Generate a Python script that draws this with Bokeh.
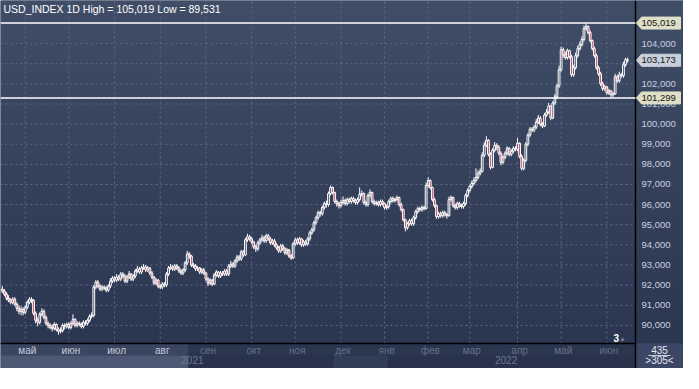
import pandas as pd
from bokeh.plotting import figure
from bokeh.models import Range1d, Label, BoxAnnotation
from bokeh.core.properties import value
from bokeh.embed import file_html
from bokeh.resources import INLINE

# ---------------- data ----------------
symbol = "USD_INDEX"
timeframe = "1D"
first_day = "2021-04-16"
skipped_days = ["2021-12-24", "2021-12-31"]

closes = [
    91.70, 91.55, 91.35, 91.25, 91.15, 91.30, 91.05, 90.85, 90.70, 90.80,
    90.65, 90.90, 91.15, 91.30, 91.25, 90.60, 90.25, 90.15, 90.55, 90.70,
    90.40, 90.10, 90.00, 89.90, 89.85, 90.05, 89.80, 89.70, 89.75, 90.00,
    89.95, 90.05, 89.90, 90.10, 90.30, 90.00, 90.10, 90.05, 89.95, 90.15,
    90.10, 90.25, 90.45, 90.50, 91.90, 92.15, 91.95, 91.80, 91.90, 91.85,
    91.75, 91.95, 92.20, 92.35, 92.25, 92.40, 92.30, 92.55, 92.45, 92.20,
    92.40, 92.55, 92.30, 92.45, 92.70, 92.80, 92.65, 92.85, 92.90, 92.75,
    92.85, 92.60, 92.40, 92.10, 92.25, 91.95, 91.90, 92.05, 92.00, 92.55,
    92.85, 92.90, 92.80, 92.95, 92.85, 92.70, 92.60, 92.75, 93.10, 93.55,
    93.45, 93.00, 92.95, 92.80, 92.85, 92.65, 92.75, 92.60, 92.30, 92.10,
    92.25, 92.05, 92.50, 92.65, 92.45, 92.60, 92.55, 92.70, 92.55, 92.95,
    93.05, 92.95, 93.20, 93.40, 93.30, 93.65, 93.50, 94.25, 94.40, 94.30,
    94.15, 93.90, 93.80, 94.10, 94.25, 94.35, 94.20, 94.45, 94.30, 94.10,
    94.20, 94.00, 93.85, 93.70, 93.95, 93.80, 93.60, 93.75, 93.45, 93.35,
    94.05, 94.25, 94.10, 94.30, 94.00, 94.15, 94.05, 94.30, 94.60, 94.75,
    95.10, 95.35, 95.60, 95.55, 95.85, 96.05, 96.00, 96.55, 96.85, 96.60,
    96.15, 96.05, 95.95, 96.10, 96.20, 96.05, 96.25, 96.15, 96.30, 96.20,
    96.10, 96.25, 96.50, 96.55, 96.10, 96.00, 96.45, 96.60, 96.15, 96.05,
    96.10, 96.00, 96.15, 96.05, 95.85, 95.90, 96.15, 96.30, 96.20, 96.25,
    96.35, 96.00, 95.75, 95.25, 94.85, 95.05, 95.20, 95.05, 95.35, 95.65,
    95.80, 95.75, 95.85, 95.80, 96.95, 97.20, 96.85, 96.25, 95.95, 95.40,
    95.55, 95.45, 95.60, 95.50, 95.45, 96.25, 96.35, 95.95, 95.85, 96.05,
    95.95, 95.90, 96.05, 96.45, 96.70, 96.90, 97.05, 97.20, 97.35, 97.55,
    97.65, 98.45, 98.95, 99.20, 98.50, 97.85, 98.70, 98.95, 98.85, 98.55,
    98.10, 98.35, 98.55, 98.80, 98.50, 98.65, 98.80, 98.75, 99.05, 98.40,
    97.80, 98.20, 99.00, 99.45, 99.75, 99.70, 99.85, 100.10, 100.30, 100.00,
    99.90, 100.45, 100.60, 100.90, 100.30, 101.05, 101.35, 101.90, 102.70, 103.70,
    103.45, 103.30, 103.65, 103.35, 102.45, 102.80, 103.40, 103.75, 103.95, 104.20,
    104.75, 104.85, 104.55, 104.15, 103.75, 103.40, 102.80, 102.50, 102.00, 101.75,
    101.85, 101.55, 101.65, 101.45, 101.50, 102.35, 102.15, 102.45, 102.40, 102.95,
    103.20, 103.173,
]

opens = [
    91.80, 91.70, 91.55, 91.35, 91.25, 91.15, 91.30, 91.05, 90.85, 90.70,
    90.80, 90.65, 90.90, 91.15, 91.30, 91.25, 90.60, 90.25, 90.15, 90.55,
    90.70, 90.40, 90.10, 90.00, 89.90, 89.85, 90.05, 89.80, 89.70, 89.75,
    90.00, 89.95, 90.05, 89.90, 90.10, 90.30, 90.00, 90.10, 90.05, 89.95,
    90.15, 90.10, 90.25, 90.45, 90.50, 91.90, 92.15, 91.95, 91.80, 91.90,
    91.85, 91.75, 91.95, 92.20, 92.35, 92.25, 92.40, 92.30, 92.55, 92.45,
    92.20, 92.40, 92.55, 92.30, 92.45, 92.70, 92.80, 92.65, 92.85, 92.90,
    92.75, 92.85, 92.60, 92.40, 92.10, 92.25, 91.95, 91.90, 92.05, 92.00,
    92.55, 92.85, 92.90, 92.80, 92.95, 92.85, 92.70, 92.60, 92.75, 93.10,
    93.55, 93.45, 93.00, 92.95, 92.80, 92.85, 92.65, 92.75, 92.60, 92.30,
    92.10, 92.25, 92.05, 92.50, 92.65, 92.45, 92.60, 92.55, 92.70, 92.55,
    92.95, 93.05, 92.95, 93.20, 93.40, 93.30, 93.65, 93.50, 94.25, 94.40,
    94.30, 94.15, 93.90, 93.80, 94.10, 94.25, 94.35, 94.20, 94.45, 94.30,
    94.10, 94.20, 94.00, 93.85, 93.70, 93.95, 93.80, 93.60, 93.75, 93.45,
    93.35, 94.05, 94.25, 94.10, 94.30, 94.00, 94.15, 94.05, 94.30, 94.60,
    94.75, 95.10, 95.35, 95.60, 95.55, 95.85, 96.05, 96.00, 96.55, 96.85,
    96.60, 96.15, 96.05, 95.95, 96.10, 96.20, 96.05, 96.25, 96.15, 96.30,
    96.20, 96.10, 96.25, 96.50, 96.55, 96.10, 96.00, 96.45, 96.60, 96.15,
    96.05, 96.10, 96.00, 96.15, 96.05, 95.85, 95.90, 96.15, 96.30, 96.20,
    96.25, 96.35, 96.00, 95.75, 95.25, 94.85, 95.05, 95.20, 95.05, 95.35,
    95.65, 95.80, 95.75, 95.85, 95.80, 96.95, 97.20, 96.85, 96.25, 95.95,
    95.40, 95.55, 95.45, 95.60, 95.50, 95.45, 96.25, 96.35, 95.95, 95.85,
    96.05, 95.95, 95.90, 96.05, 96.45, 96.70, 96.90, 97.05, 97.20, 97.35,
    97.55, 97.65, 98.45, 98.95, 99.20, 98.50, 97.85, 98.70, 98.95, 98.85,
    98.55, 98.10, 98.35, 98.55, 98.80, 98.50, 98.65, 98.80, 98.75, 99.05,
    98.40, 97.80, 98.20, 99.00, 99.45, 99.75, 99.70, 99.85, 100.10, 100.30,
    100.00, 99.90, 100.45, 100.60, 100.90, 100.30, 101.05, 101.35, 101.90, 102.70,
    103.70, 103.45, 103.30, 103.65, 103.35, 102.45, 102.80, 103.40, 103.75, 103.95,
    104.20, 104.75, 104.85, 104.55, 104.15, 103.75, 103.40, 102.80, 102.50, 102.00,
    101.75, 101.85, 101.55, 101.65, 101.45, 101.50, 102.35, 102.15, 102.45, 102.40,
    102.95, 103.20,
]

highs = [
    91.95, 91.80, 91.65, 91.50, 91.35, 91.40, 91.40, 91.15, 91.00, 90.95,
    90.90, 91.00, 91.25, 91.40, 91.40, 91.30, 90.70, 90.40, 90.65, 90.85,
    90.80, 90.50, 90.20, 90.10, 90.05, 90.15, 90.10, 89.90, 89.90, 90.10,
    90.10, 90.15, 90.15, 90.20, 90.55, 90.35, 90.20, 90.20, 90.15, 90.25,
    90.25, 90.35, 90.55, 90.65, 92.00, 92.25, 92.25, 92.05, 92.00, 92.00,
    91.95, 92.05, 92.35, 92.45, 92.45, 92.55, 92.50, 92.65, 92.65, 92.55,
    92.50, 92.70, 92.60, 92.55, 92.80, 92.95, 92.90, 92.95, 93.05, 93.00,
    92.95, 92.90, 92.70, 92.45, 92.35, 92.30, 92.05, 92.15, 92.15, 92.65,
    92.95, 93.05, 93.00, 93.05, 93.05, 92.95, 92.80, 92.85, 93.20, 93.70,
    93.65, 93.50, 93.10, 93.05, 92.95, 92.90, 92.85, 92.85, 92.65, 92.40,
    92.35, 92.30, 92.60, 92.75, 92.70, 92.70, 92.70, 92.80, 92.80, 93.05,
    93.20, 93.15, 93.30, 93.50, 93.50, 93.75, 93.75, 94.35, 94.55, 94.50,
    94.40, 94.20, 94.00, 94.20, 94.35, 94.50, 94.45, 94.55, 94.55, 94.40,
    94.30, 94.30, 94.10, 93.95, 94.05, 94.05, 93.90, 93.85, 93.80, 93.55,
    94.15, 94.35, 94.35, 94.40, 94.35, 94.25, 94.25, 94.40, 94.70, 94.85,
    95.20, 95.45, 95.70, 95.70, 95.95, 96.15, 96.20, 96.65, 96.95, 96.90,
    96.65, 96.25, 96.15, 96.25, 96.40, 96.30, 96.35, 96.35, 96.40, 96.40,
    96.30, 96.35, 96.85, 96.70, 96.60, 96.20, 96.55, 96.75, 96.65, 96.25,
    96.20, 96.20, 96.25, 96.25, 96.10, 96.00, 96.25, 96.40, 96.40, 96.35,
    96.45, 96.40, 96.10, 95.80, 95.30, 95.15, 95.30, 95.30, 95.45, 95.75,
    95.90, 95.90, 95.95, 95.95, 97.10, 97.35, 97.25, 96.90, 96.35, 96.00,
    95.65, 95.65, 95.70, 95.70, 95.60, 96.40, 96.45, 96.40, 96.05, 96.15,
    96.15, 96.05, 96.15, 96.55, 96.80, 97.00, 97.20, 97.35, 97.80, 97.70,
    97.80, 98.60, 99.10, 99.40, 99.25, 98.60, 98.80, 99.10, 99.05, 98.95,
    98.65, 98.45, 98.65, 98.90, 98.85, 98.75, 98.90, 98.90, 99.30, 99.10,
    98.50, 98.30, 99.10, 99.55, 99.85, 99.85, 99.95, 100.25, 100.45, 100.40,
    100.10, 100.55, 100.75, 101.05, 100.95, 101.15, 101.50, 102.00, 102.90, 103.85,
    103.80, 103.60, 103.75, 103.70, 103.45, 102.95, 103.55, 103.90, 104.10, 104.35,
    104.90, 105.019, 104.90, 104.65, 104.20, 103.85, 103.50, 102.90, 102.60, 102.10,
    101.95, 101.90, 101.75, 101.70, 101.60, 102.50, 102.45, 102.60, 102.55, 103.10,
    103.30, 103.30,
]

lows = [
    91.60, 91.45, 91.25, 91.15, 91.05, 91.05, 90.95, 90.70, 90.55, 90.50,
    90.50, 90.55, 90.80, 91.05, 91.10, 90.50, 90.10, 89.95, 90.05, 90.45,
    90.30, 90.00, 89.85, 89.80, 89.70, 89.75, 89.70, 89.531, 89.60, 89.65,
    89.80, 89.85, 89.80, 89.80, 90.00, 89.90, 89.90, 89.95, 89.85, 89.85,
    90.00, 90.00, 90.15, 90.35, 90.40, 91.80, 91.85, 91.70, 91.70, 91.75,
    91.65, 91.65, 91.85, 92.10, 92.15, 92.15, 92.20, 92.20, 92.35, 92.10,
    92.10, 92.30, 92.20, 92.20, 92.35, 92.60, 92.55, 92.55, 92.75, 92.65,
    92.65, 92.50, 92.30, 92.00, 92.00, 91.85, 91.80, 91.80, 91.90, 91.90,
    92.45, 92.75, 92.70, 92.70, 92.75, 92.60, 92.50, 92.50, 92.65, 93.00,
    93.30, 92.90, 92.85, 92.70, 92.70, 92.55, 92.55, 92.50, 92.20, 91.95,
    92.00, 91.95, 92.00, 92.40, 92.35, 92.35, 92.45, 92.45, 92.45, 92.45,
    92.85, 92.85, 92.85, 93.10, 93.20, 93.20, 93.40, 93.45, 94.15, 94.20,
    94.05, 93.80, 93.65, 93.70, 94.00, 94.15, 94.10, 94.10, 94.20, 94.00,
    94.00, 93.90, 93.75, 93.60, 93.60, 93.70, 93.50, 93.50, 93.35, 93.25,
    93.30, 93.95, 94.00, 94.00, 93.90, 93.90, 93.95, 93.95, 94.20, 94.50,
    94.65, 95.00, 95.25, 95.40, 95.45, 95.75, 95.85, 95.90, 96.45, 96.50,
    96.05, 95.90, 95.80, 95.85, 96.00, 95.95, 95.95, 96.05, 96.05, 96.10,
    96.00, 96.00, 96.15, 96.40, 96.00, 95.90, 95.90, 96.35, 96.05, 95.95,
    95.95, 95.90, 95.90, 95.95, 95.75, 95.75, 95.80, 96.05, 96.10, 96.10,
    96.15, 95.90, 95.65, 95.15, 94.67, 94.75, 94.95, 94.95, 94.95, 95.25,
    95.55, 95.65, 95.65, 95.70, 95.75, 96.85, 96.75, 96.15, 95.85, 95.30,
    95.30, 95.35, 95.35, 95.40, 95.30, 95.40, 96.15, 95.85, 95.75, 95.75,
    95.85, 95.80, 95.80, 95.95, 96.35, 96.60, 96.80, 96.95, 97.10, 97.25,
    97.45, 97.60, 98.35, 98.85, 98.40, 97.75, 97.80, 98.60, 98.70, 98.45,
    97.95, 98.00, 98.25, 98.45, 98.40, 98.40, 98.55, 98.65, 98.65, 98.30,
    97.70, 97.70, 98.10, 98.90, 99.35, 99.60, 99.60, 99.75, 100.00, 99.90,
    99.80, 99.85, 100.35, 100.50, 100.20, 100.25, 100.95, 101.25, 101.80, 102.60,
    103.30, 103.20, 103.20, 103.25, 102.35, 102.35, 102.70, 103.30, 103.65, 103.85,
    104.10, 104.65, 104.45, 104.05, 103.65, 103.30, 102.70, 102.40, 101.90, 101.65,
    101.65, 101.45, 101.45, 101.299, 101.35, 101.45, 102.05, 102.05, 102.30, 102.30,
    102.85, 103.05,
]

month_names = {1: "янв", 2: "фев", 3: "мар", 4: "апр", 5: "май", 6: "июн",
               7: "июл", 8: "авг", 9: "сен", 10: "окт", 11: "ноя", 12: "дек"}
y_ticks = [90, 91, 92, 93, 94, 95, 96, 97, 98, 99, 100, 101, 102, 103, 104]
range_high = 105.019
range_low = 89.531
recent_low = 101.299
last_price = 103.173
bars_total = 435
bars_visible = 305
marker_text = "3"

# ---------------- derived ----------------
n = len(closes)
assert len(opens) == n and len(highs) == n and len(lows) == n, (len(opens), len(highs), len(lows), n)

all_days = pd.bdate_range(first_day, periods=n + len(skipped_days))
days = all_days[~all_days.isin(pd.to_datetime(skipped_days))][:n]
xs = list(range(n))
month_ticks = [i for i in range(1, n) if days[i].month != days[i - 1].month]
month_text = [month_names[days[i].month] for i in month_ticks]
years = sorted(set(d.year for d in days))
year_centers = []
for yr in years:
    idx = [i for i in range(n) if days[i].year == yr]
    year_centers.append((idx[0] + idx[-1]) / 2)


def fmt(v):
    return f"{v:.3f}".replace(".", ",")


# ---------------- layout / style ----------------
W, H, RIGHT = 683, 368, 48
BAND_PX, MONTH_PX = 25, 12
X0, X1 = -0.9, 304.8                      # price pane (bars)
Y_TOP, PRICE_FLOOR = 106.14, 89.10        # price pane (index points)
PX_X = (W - RIGHT) / (X1 - X0)            # pixels per bar
PX_Y = (H - BAND_PX) / (Y_TOP - PRICE_FLOOR)
Y_BOTTOM = PRICE_FLOOR - BAND_PX / PX_Y
MONTH_FLOOR = PRICE_FLOOR - MONTH_PX / PX_Y
X_END = X1 + RIGHT / PX_X                 # right edge incl. price scale
HIGHLIGHT_END = 89.5
FONT = value("Liberation Sans")
GRID = "#5d6a88"

p = figure(width=W, height=H, x_range=Range1d(X0, X_END), y_range=Range1d(Y_BOTTOM, Y_TOP),
           output_backend="svg", toolbar_location=None, x_axis_location=None,
           y_axis_location=None, min_border=0)
p.background_fill_color = "#2e3a55"
p.border_fill_color = "#2e3a55"
p.outline_line_color = None
p.grid.visible = False

# background gradient
top_rgb, bot_rgb = (64, 77, 104), (43, 54, 79)
NB = 24
for k in range(NB):
    t = (k + 0.5) / NB
    rgb = tuple(int(round(bot_rgb[j] + (top_rgb[j] - bot_rgb[j]) * t)) for j in range(3))
    lo = PRICE_FLOOR + (Y_TOP - PRICE_FLOOR) * k / NB
    hi = PRICE_FLOOR + (Y_TOP - PRICE_FLOOR) * (k + 1) / NB
    p.add_layout(BoxAnnotation(bottom=lo, top=hi + 0.01, fill_color="#%02x%02x%02x" % rgb,
                               fill_alpha=1, line_color=None, level="image"))

# grid lines (price pane only)
p.segment(x0=[X0] * len(y_ticks), x1=[X1] * len(y_ticks), y0=y_ticks, y1=y_ticks,
          line_color=GRID, line_dash="2 3", line_width=1, level="underlay")
p.segment(x0=month_ticks, x1=month_ticks, y0=[PRICE_FLOOR] * len(month_ticks),
          y1=[Y_TOP] * len(month_ticks), line_color=GRID, line_dash="2 3",
          line_width=1, level="underlay")

# bottom time band
p.quad(left=[X0, HIGHLIGHT_END], right=[HIGHLIGHT_END, X1], bottom=[MONTH_FLOOR] * 2,
       top=[PRICE_FLOOR] * 2, fill_color=["#3a4661", "#2a354e"], line_color=None)
p.quad(left=[X0, HIGHLIGHT_END, 159.5, 185.5], right=[HIGHLIGHT_END, 159.5, 185.5, X1],
       bottom=[Y_BOTTOM] * 4, top=[MONTH_FLOOR] * 4,
       fill_color=["#4c5874", "#28334b", "#323d57", "#28334b"], line_color=None)
p.quad(left=[X1], right=[X_END], bottom=[Y_BOTTOM], top=[PRICE_FLOOR],
       fill_color=["#3b4765"], line_color=None)
month_colors = ["#c4cbd9" if t < HIGHLIGHT_END else "#65718b" for t in month_ticks]
month_y = PRICE_FLOOR - 6.5 / PX_Y
year_y = PRICE_FLOOR - 16.5 / PX_Y
p.text(x=[t + 1 for t in month_ticks], y=[month_y] * len(month_ticks),
       text=month_text, text_color=month_colors, text_font=FONT, text_font_size="10px",
       text_align="center", text_baseline="middle")
p.text(x=year_centers, y=[year_y] * len(years), text=[str(y) for y in years],
       text_color="#6b7791", text_font=FONT, text_font_size="10px",
       text_align="center", text_baseline="middle")

# candles
tops = [max(o, c) for o, c in zip(opens, closes)]
bots = [min(o, c) for o, c in zip(opens, closes)]
fills = ["#c0334f" if c < o else "#34405c" for o, c in zip(opens, closes)]
p.segment(x0=xs, x1=xs, y0=lows, y1=highs, line_color="white", line_width=1)
p.vbar(x=xs, width=0.85, top=tops, bottom=bots, fill_color=fills, line_color="white", line_width=1)

# separators and level lines
p.segment(x0=[X0], x1=[X1], y0=[PRICE_FLOOR], y1=[PRICE_FLOOR], line_color="black", line_width=1.5)
p.segment(x0=[X1], x1=[X1], y0=[Y_BOTTOM], y1=[Y_TOP], line_color="black", line_width=1.5)
p.segment(x0=[X0, X0], x1=[X1, X1], y0=[range_high, recent_low], y1=[range_high, recent_low],
          line_color="white", line_width=1.5)

# price scale labels
p.text(x=[X1] * len(y_ticks), y=y_ticks, text=[fmt(t) for t in y_ticks], x_offset=6,
       text_color="#c8d0e0", text_font=FONT, text_font_size="9.5px",
       text_align="left", text_baseline="middle")

# price tags (arrow-shaped)
tag_vals = [range_high, last_price, recent_low]
tag_cols = ["#dedfc6", "#c9cfdb", "#dedfc6"]
dx, dy = 1 / PX_X, 1 / PX_Y
tag_xs, tag_ys = [], []
for v in tag_vals:
    tag_xs.append([X1 + 1 * dx, X1 + 6 * dx, X_END - 3 * dx, X_END - 3 * dx, X1 + 6 * dx])
    tag_ys.append([v, v + 6 * dy, v + 6 * dy, v - 6 * dy, v - 6 * dy])
p.patches(xs=tag_xs, ys=tag_ys, fill_color=tag_cols, line_color=tag_cols)
p.text(x=[X1] * 3, y=tag_vals, text=[fmt(v) for v in tag_vals], x_offset=6,
       text_color="#151515", text_font=FONT, text_font_size="9.5px",
       text_align="left", text_baseline="middle")

# bottom-right counter
cx = (X1 + X_END) / 2
p.text(x=[cx, cx], y=[month_y, year_y],
       text=[str(bars_total), f">{bars_visible}<"], text_color="#e4e8f0", text_font=FONT,
       text_font_size="10px", text_align="center", text_baseline="middle")
p.segment(x0=[cx - 11 * dx], x1=[cx + 11 * dx], y0=[MONTH_FLOOR], y1=[MONTH_FLOOR],
          line_color="#c8d0e0", line_width=1)

# marker
p.add_layout(Label(x=295.5, y=PRICE_FLOOR, y_offset=2, text=marker_text, text_color="white",
                   text_font="Liberation Sans", text_font_size="10px", text_font_style="bold",
                   text_align="center", text_baseline="bottom"))
p.add_layout(Label(x=298.5, y=PRICE_FLOOR, y_offset=2, text="▲", text_color="#6f7b95",
                   text_font_size="7px", text_align="center", text_baseline="bottom"))

# title
p.add_layout(Label(x=X0, y=Y_TOP, x_offset=3, y_offset=-2,
                   text=f"{symbol} {timeframe} High = {fmt(range_high)} Low = {fmt(range_low)}",
                   text_color="white", text_font="Liberation Sans", text_font_size="10.5px",
                   text_baseline="top", text_align="left"))

open("out.html", "w").write(file_html(p, INLINE))
